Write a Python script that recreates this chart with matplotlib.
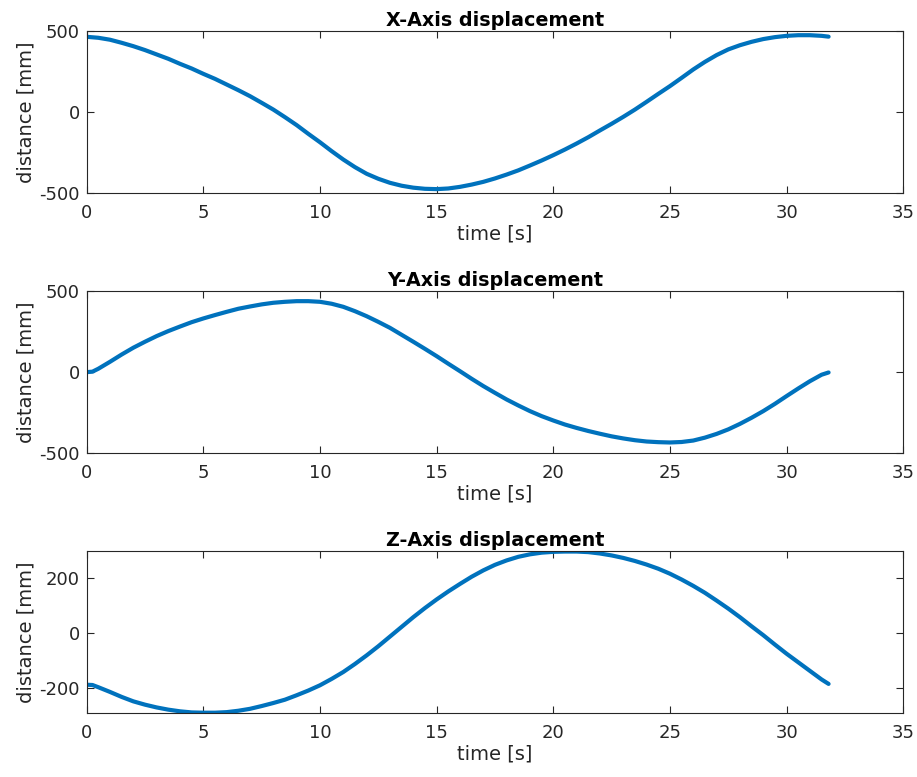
#!/usr/bin/env python3

"""
Recreate the X/Y/Z axis displacement chart
"""

import matplotlib
matplotlib.use("Agg")
import matplotlib.pyplot as plt
import numpy as np

# time samples (s), every half second
t_x = [0, 0.5, 1, 1.5, 2, 2.5, 3, 3.5, 4, 4.5, 5, 5.5, 6, 6.5, 7, 7.5, 8, 8.5, 9, 9.5,
       10, 10.5, 11, 11.5, 12, 12.5, 13, 13.5, 14, 14.5, 15, 15.5, 16, 16.5, 17, 17.5,
       18, 18.5, 19, 19.5, 20, 20.5, 21, 21.5, 22, 22.5, 23, 23.5, 24, 24.5, 25, 25.5,
       26, 26.5, 27, 27.5, 28, 28.5, 29, 29.5, 30, 30.5, 31, 31.5, 31.8]
x_disp = [466, 460, 448, 429, 408, 384, 357, 330, 299, 270, 237, 206, 171, 136, 99, 58,
          16, -31, -80, -134, -186, -241, -293, -340, -381, -412, -437, -455, -467, -474,
          -476, -472, -462, -448, -431, -410, -386, -360, -330, -299, -266, -231, -194,
          -155, -113, -72, -29, 16, 64, 113, 161, 212, 264, 311, 353, 388, 414, 435, 452,
          464, 472, 476, 476, 472, 467]

t_y = [0, 0.25, 0.5, 1, 1.5, 2, 2.5, 3, 3.5, 4, 4.5, 5, 5.5, 6, 6.5, 7, 7.5, 8, 8.5, 9,
       9.5, 10, 10.5, 11, 11.5, 12, 12.5, 13, 13.5, 14, 14.5, 15, 15.5, 16, 16.5, 17,
       17.5, 18, 18.5, 19, 19.5, 20, 20.5, 21, 21.5, 22, 22.5, 23, 23.5, 24, 24.5, 25,
       25.5, 26, 26.5, 27, 27.5, 28, 28.5, 29, 29.5, 30, 30.5, 31, 31.5, 31.8]
y_disp = [0, 3, 21, 64, 109, 151, 188, 223, 254, 282, 309, 332, 353, 373, 392, 406, 419,
          429, 435, 439, 439, 435, 423, 404, 377, 346, 311, 274, 231, 188, 144, 99, 52, 6,
          -41, -86, -128, -169, -206, -241, -272, -299, -324, -345, -364, -381, -397,
          -410, -421, -429, -433, -435, -432, -423, -405, -382, -354, -320, -282, -241,
          -196, -148, -101, -56, -16, -2]

t_z = [0, 0.25, 0.5, 1, 1.5, 2, 2.5, 3, 3.5, 4, 4.5, 5, 5.5, 6, 6.5, 7, 7.5, 8, 8.5, 9,
       9.5, 10, 10.5, 11, 11.5, 12, 12.5, 13, 13.5, 14, 14.5, 15, 15.5, 16, 16.5, 17,
       17.5, 18, 18.5, 19, 19.5, 20, 20.5, 21, 21.5, 22, 22.5, 23, 23.5, 24, 24.5, 25,
       25.5, 26, 26.5, 27, 27.5, 28, 28.5, 29, 29.5, 30, 30.5, 31, 31.5, 31.8]
z_disp = [-187, -188, -196, -213, -231, -247, -259, -269, -277, -283, -287, -288, -288,
          -286, -281, -274, -264, -253, -241, -225, -208, -189, -166, -141, -112, -81, -48,
          -13, 22, 57, 90, 121, 150, 177, 203, 226, 246, 262, 275, 284, 290, 293, 294, 294,
          292, 287, 280, 271, 260, 247, 232, 214, 193, 170, 145, 117, 88, 57, 24, -8, -42,
          -75, -106, -137, -168, -184]

titles = ["X-Axis displacement", "Y-Axis displacement", "Z-Axis displacement"]
ylims = [(-500, 500), (-500, 500), (-289, 295)]
yticks = [[-500, 0, 500], [-500, 0, 500], [-200, 0, 200]]

plt.rcParams['font.family'] = ['DejaVu Sans']
plt.rcParams['axes.unicode_minus'] = False

fig = plt.figure(figsize=(9.17, 7.77), dpi=100)

# axes positions in figure fractions
left = 0.0945
width = 0.8905
height = 0.2081
bottoms = [0.7516, 0.4170, 0.0824]

series = [(t_x, x_disp), (t_y, y_disp), (t_z, z_disp)]
grey = '#262626'

for i, (t, d) in enumerate(series):
    ax = fig.add_axes([left, bottoms[i], width, height])
    ax.plot(t, d, color='#0072BD', linewidth=3, solid_capstyle='round',
            solid_joinstyle='round')
    ax.set_xlim(0, 35)
    ax.set_ylim(*ylims[i])
    ax.set_xticks(np.arange(0, 36, 5))
    ax.set_yticks(yticks[i])
    ax.tick_params(direction='in', length=5, width=0.8, top=True, right=True,
                   labelsize=13, colors=grey)
    ax.tick_params(axis='x', pad=8)
    ax.tick_params(axis='y', pad=5)
    for spine in ax.spines.values():
        spine.set_color(grey)
        spine.set_linewidth(0.8)
    ax.set_title(titles[i], fontsize=13.8, fontweight='bold', pad=4)
    ax.set_xlabel("time [s]", fontsize=14, color=grey, labelpad=2)
    ax.set_ylabel("distance [mm]", fontsize=14, color=grey, labelpad=3)

plt.savefig("out.png", dpi=100)
